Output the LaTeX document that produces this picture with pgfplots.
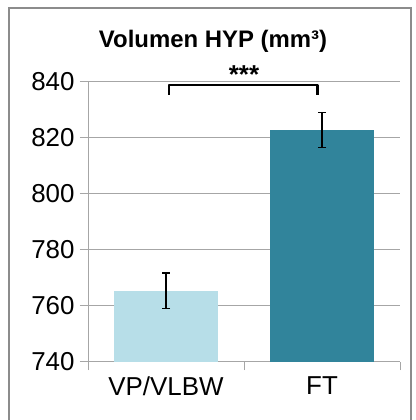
\documentclass[border=0pt]{standalone}
\usepackage{pgfplots}
\pgfplotsset{compat=1.18}
\usepackage{fontspec}
\setmainfont{Liberation Sans}
\definecolor{lightbar}{HTML}{B7DEE8}
\definecolor{darkbar}{HTML}{31849B}
\definecolor{gridgray}{HTML}{A6A6A6}
\definecolor{framegray}{HTML}{8C8C8C}
\begin{document}
\begin{tikzpicture}
\useasboundingbox (0,0) rectangle (416bp,420bp);
\fill[white] (0,0) rectangle (416bp,420bp);
\draw[framegray, line width=1.5bp] (9bp,-2bp) -- (9bp,412bp) -- (411bp,412bp) -- (411bp,-2bp);
\node[anchor=base, font=\fontsize{24}{27}\selectfont\bfseries] at (213bp,372bp) {Volumen HYP (mm³)};
\begin{axis}[
  at={(88bp,58bp)}, anchor=south west,
  scale only axis, width=312bp, height=280bp,
  xmin=-0.5, xmax=1.5, ymin=740, ymax=840,
  ytick={740,760,...,840},
  ymajorgrids, grid style={gridgray, line width=1bp},
  axis lines*=left, axis line style={gridgray, line width=1bp, -},
  tick style={gridgray, line width=1bp},
  tick align=outside, major tick length=8bp,
  xtick={-0.5,0.5,1.5}, xticklabels={VP/VLBW, FT},
  x tick label as interval,
  ticklabel style={font=\fontsize{26}{29}\selectfont, text=black},
  /pgf/number format/assume math mode=true,
  yticklabel style={xshift=-2bp},
  xticklabel style={yshift=-3bp},
  clip=false,
]
\addplot[ybar, bar width=0.67, fill=lightbar, draw=none,
  error bars/.cd, y dir=both, y explicit,
  error bar style={black, line width=1.3bp},
  error mark options={black, rotate=90, mark size=4bp, line width=1.3bp}]
  coordinates {(0,765.5) +- (0,6.3)};
\addplot[ybar, bar width=0.67, fill=darkbar, draw=none,
  error bars/.cd, y dir=both, y explicit,
  error bar style={black, line width=1.3bp},
  error mark options={black, rotate=90, mark size=4bp, line width=1.3bp}]
  coordinates {(1,822.8) +- (0,6.2)};
\draw[black, line width=2.5bp, line join=round] (axis cs:0.02,835.5) -- (axis cs:0.02,838.9) -- (axis cs:0.97,838.9) -- (axis cs:0.97,835.5);
\node[font=\fontsize{26}{29}\selectfont\bfseries, anchor=base] at (axis cs:0.5,839.5) {***};
\end{axis}
\end{tikzpicture}
\end{document}
